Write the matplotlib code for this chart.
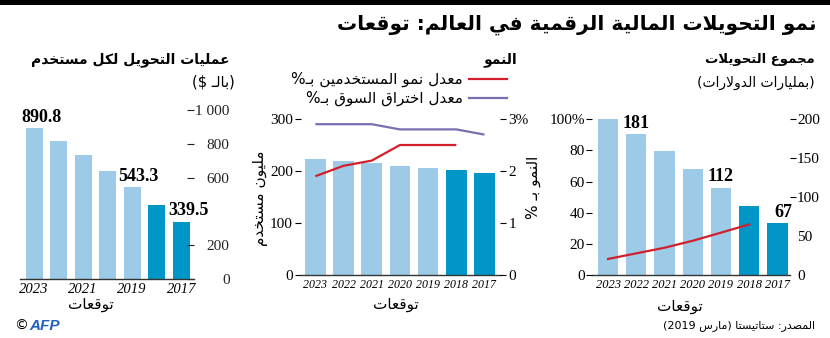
import re
import numpy as np
import matplotlib
matplotlib.use("Agg")
import matplotlib.pyplot as plt

# ---------------------------------------------------------------- data
years = ["2023", "2022", "2021", "2020", "2019", "2018", "2017"]
is_actual = [False, False, False, False, False, True, True]

# transfers per user (USD)
per_user = [890.8, 819, 736, 642, 543.3, 437, 339.5]
per_user_labeled = [0, 4, 6]

# users (millions) and growth rates (%)
users = [224, 219, 215, 210, 206, 201, 196]
user_growth = [1.9, 2.1, 2.2, 2.5, 2.5, 2.5, np.nan]
penetration = [2.9, 2.9, 2.9, 2.8, 2.8, 2.8, 2.7]

# total value of transfers (USD bn) and share (%)
total_value = [200, 181, 159, 136, 112, 88, 67]
total_labeled = [1, 4, 6]
share = [10.3, 13.9, 17.5, 22.0, 27.2, 32.5, np.nan]

# ---------------------------------------------------------------- arabic text helpers
_DUAL = {'ئ': 0xFE89, 'ب': 0xFE8F, 'ت': 0xFE95, 'ث': 0xFE99, 'ج': 0xFE9D, 'ح': 0xFEA1,
         'خ': 0xFEA5, 'س': 0xFEB1, 'ش': 0xFEB5, 'ص': 0xFEB9, 'ض': 0xFEBD, 'ط': 0xFEC1,
         'ظ': 0xFEC5, 'ع': 0xFEC9, 'غ': 0xFECD, 'ف': 0xFED1, 'ق': 0xFED5, 'ك': 0xFED9,
         'ل': 0xFEDD, 'م': 0xFEE1, 'ن': 0xFEE5, 'ه': 0xFEE9, 'ي': 0xFEF1}
_RIGHT = {'آ': 0xFE81, 'أ': 0xFE83, 'ؤ': 0xFE85, 'إ': 0xFE87, 'ا': 0xFE8D, 'ة': 0xFE93,
          'د': 0xFEA9, 'ذ': 0xFEAB, 'ر': 0xFEAD, 'ز': 0xFEAF, 'و': 0xFEED, 'ى': 0xFEEF}
_LAMALEF = {'آ': 0xFEF5, 'أ': 0xFEF7, 'إ': 0xFEF9, 'ا': 0xFEFB}
_TATWEEL = 'ـ'


def _links_forward(c):
    return c in _DUAL or c == _TATWEEL


def _links_back(c):
    return c in _DUAL or c in _RIGHT or c == _TATWEEL


def _shape(s):
    out, i, n = [], 0, len(s)
    while i < n:
        c = s[i]
        prev = s[i - 1] if i > 0 else ''
        back = bool(prev) and _links_forward(prev) and _links_back(c)
        if c == 'ل' and i + 1 < n and s[i + 1] in _LAMALEF:
            out.append(chr(_LAMALEF[s[i + 1]] + (1 if back else 0)))
            i += 2
            continue
        nxt = s[i + 1] if i + 1 < n else ''
        fwd = c in _DUAL and bool(nxt) and _links_back(nxt)
        if c in _DUAL:
            k = 3 if (back and fwd) else 2 if fwd else 1 if back else 0
            out.append(chr(_DUAL[c] + k))
        elif c in _RIGHT:
            out.append(chr(_RIGHT[c] + (1 if back else 0)))
        else:
            out.append(c)
        i += 1
    return ''.join(out)


def ar(s):
    """Shape Arabic text and put it in left-to-right display order."""
    runs = re.findall(r'[0-9A-Za-z][0-9A-Za-z.,]*|.', _shape(s))
    return ''.join(reversed(runs)).translate(str.maketrans('()', ')('))


# ---------------------------------------------------------------- style
W, H = 830, 338
LIGHT = "#9dcbe7"
DARK = "#0096c8"
RED = "#d21f2b"
PURPLE = "#7b6eb0"
SERIF = "Liberation Serif"
ARFONT = ["DejaVu Sans"]

plt.rcParams["font.family"] = ["Liberation Serif", "DejaVu Sans"]

fig = plt.figure(figsize=(W / 100, H / 100), dpi=100)
fig.patch.set_facecolor("white")


def px_axes(x0, x1, ybot, ytop):
    return fig.add_axes([x0 / W, 1 - ybot / H, (x1 - x0) / W, (ybot - ytop) / H])


def ftext(x, y, s, **kw):
    fig.text(x / W, 1 - y / H, s, **kw)


bar_colors = [DARK if a else LIGHT for a in is_actual]
pos = np.arange(len(years))


def base_style(ax):
    for side in ("top", "left", "right"):
        ax.spines[side].set_visible(False)
    ax.spines["bottom"].set_color("#333333")
    ax.spines["bottom"].set_linewidth(1.0)
    ax.set_facecolor("none")
    ax.tick_params(axis="x", length=0, pad=3)


def hide_spines(ax):
    for side in ("top", "left", "right", "bottom"):
        ax.spines[side].set_visible(False)


# ---------------------------------------------------------------- left panel
ax1 = px_axes(19.5, 193.5, 279.3, 110)
ax1.bar(pos, per_user, width=0.7, color=bar_colors)
ax1.set_xlim(-0.6, 6.5)
ax1.set_ylim(0, 1000)
base_style(ax1)
ax1.set_xticks(pos[::2])
ax1.set_xticklabels(years[::2], fontstyle="italic", fontsize=10.5, family=SERIF)
ax1.yaxis.tick_right()
ax1.set_yticks([0, 200, 600, 800, 1000])
ax1.set_yticklabels(["0", "200", "600", "800", "1 000"], family=SERIF, fontsize=11, ha="right")
ax1.tick_params(axis="y", direction="in", length=5, width=0.8, pad=26, colors="#222222")
for i, dx in zip(per_user_labeled, [0.3, 0.24, 0.3]):
    ax1.text(i + dx, per_user[i] + 14, f"{per_user[i]:.1f}", ha="center", va="bottom",
             fontsize=13, fontweight="bold", family=SERIF, clip_on=False)

# ---------------------------------------------------------------- middle panel
ax2 = px_axes(301.3, 500, 275, 119)
ax2b = ax2.twinx()
ax2.bar(pos, users, width=0.73, color=bar_colors)
ax2.set_xlim(-0.5, 6.55)
ax2.set_ylim(0, 300)
base_style(ax2)
ax2.set_xticks(pos)
ax2.set_xticklabels(years, fontstyle="italic", fontsize=8.6, family=SERIF)
ax2.yaxis.tick_left()
ax2.set_yticks([0, 100, 200, 300])
ax2.set_yticklabels(["0", "100", "200", "300"], family=SERIF, fontsize=11)
ax2.tick_params(axis="y", direction="out", length=4, width=0.8, pad=2)

ax2b.set_ylim(0, 3)
ax2b.plot(pos, penetration, color=PURPLE, lw=1.6, solid_capstyle="butt")
ax2b.plot(pos, user_growth, color=RED, lw=1.6, solid_capstyle="butt")
hide_spines(ax2b)
ax2b.yaxis.tick_right()
ax2b.set_yticks([0, 1, 2, 3])
ax2b.set_yticklabels(["0", "1", "2", "3%"], family=SERIF, fontsize=11)
ax2b.tick_params(axis="y", direction="out", length=4, width=0.8, pad=2)

# ---------------------------------------------------------------- right panel
ax3 = px_axes(591.9, 790.2, 275, 119.3)
ax3b = ax3.twinx()
ax3.bar(pos, total_value, width=0.71, color=bar_colors)
ax3.set_xlim(-0.57, 6.45)
ax3.set_ylim(0, 200)
base_style(ax3)
ax3.set_xticks(pos)
ax3.set_xticklabels(years, fontstyle="italic", fontsize=9, family=SERIF)
ax3.yaxis.tick_right()
ax3.set_yticks([0, 50, 100, 150, 200])
ax3.set_yticklabels(["0", "50", "100", "150", "200"], family=SERIF, fontsize=11)
ax3.tick_params(axis="y", direction="out", length=4, width=0.8, pad=1)
for t in ax3.yaxis.get_major_ticks()[:2]:
    t.tick2line.set_visible(False)
for i, dx in zip(total_labeled, [0, 0, 0.2]):
    ax3.text(i + dx, total_value[i] + 3, f"{total_value[i]}", ha="center", va="bottom",
             fontsize=13, fontweight="bold", family=SERIF, clip_on=False)

ax3b.set_ylim(0, 100)
ax3b.plot(pos, share, color=RED, lw=1.6)
hide_spines(ax3b)
ax3b.yaxis.tick_left()
ax3b.set_yticks([0, 20, 40, 60, 80, 100])
ax3b.set_yticklabels(["0", "20", "40", "60", "80", "100%"], family=SERIF, fontsize=11)
ax3b.tick_params(axis="y", direction="out", length=4, width=0.8, pad=1)

# ---------------------------------------------------------------- texts
fig.add_artist(plt.Rectangle((0, 1 - 5 / H), 1, 5 / H, transform=fig.transFigure,
                             color="black", lw=0))
ftext(817, 25, ar("نمو التحويلات المالية الرقمية في العالم: توقعات"), ha="right", va="center",
      fontsize=14.5, fontweight="bold", family=ARFONT)

ftext(230, 60, ar("عمليات التحويل لكل مستخدم"), ha="right", va="center",
      fontsize=10, fontweight="bold", family=ARFONT)
ftext(235, 82, ar("(بالـ $)"), ha="right", va="center", fontsize=10.5, family=ARFONT)

ftext(517, 60, ar("النمو"), ha="right", va="center", fontsize=10, fontweight="bold", family=ARFONT)
ftext(463, 79, ar("معدل نمو المستخدمين بـ%"), ha="right", va="center", fontsize=11, family=ARFONT)
ftext(463, 98, ar("معدل اختراق السوق بـ%"), ha="right", va="center", fontsize=11, family=ARFONT)
fig.add_artist(plt.Line2D([469 / W, 507 / W], [1 - 79 / H] * 2, color=RED, lw=1.6))
fig.add_artist(plt.Line2D([469 / W, 507 / W], [1 - 98 / H] * 2, color=PURPLE, lw=1.6))

ftext(261, 198, ar("مليون مستخدم"), ha="center", va="center", rotation=90,
      fontsize=11, family=ARFONT)
ftext(533, 187, ar("النمو بـ %"), ha="center", va="center", rotation=90,
      fontsize=11, family=ARFONT)

ftext(815, 60, ar("مجموع التحويلات"), ha="right", va="center", fontsize=9.5,
      fontweight="bold", family=ARFONT)
ftext(815, 83, ar("(بمليارات الدولارات)"), ha="right", va="center", fontsize=10, family=ARFONT)

for cx, cy in [(91, 305), (396, 305), (680, 307)]:
    ftext(cx, cy, ar("توقعات"), ha="center", va="center", fontsize=11, family=ARFONT)

ftext(815, 326, ar("المصدر: ستاتيستا (مارس 2019)"), ha="right", va="center",
      fontsize=8, family=ARFONT)
ftext(14, 326, "©", ha="left", va="center", fontsize=10, family=["DejaVu Sans"])
ftext(29, 326, "AFP", ha="left", va="center", fontsize=11, fontweight="bold",
      fontstyle="italic", family=["Liberation Sans"], color="#1f5fbf")

fig.savefig("out.png", dpi=100)
